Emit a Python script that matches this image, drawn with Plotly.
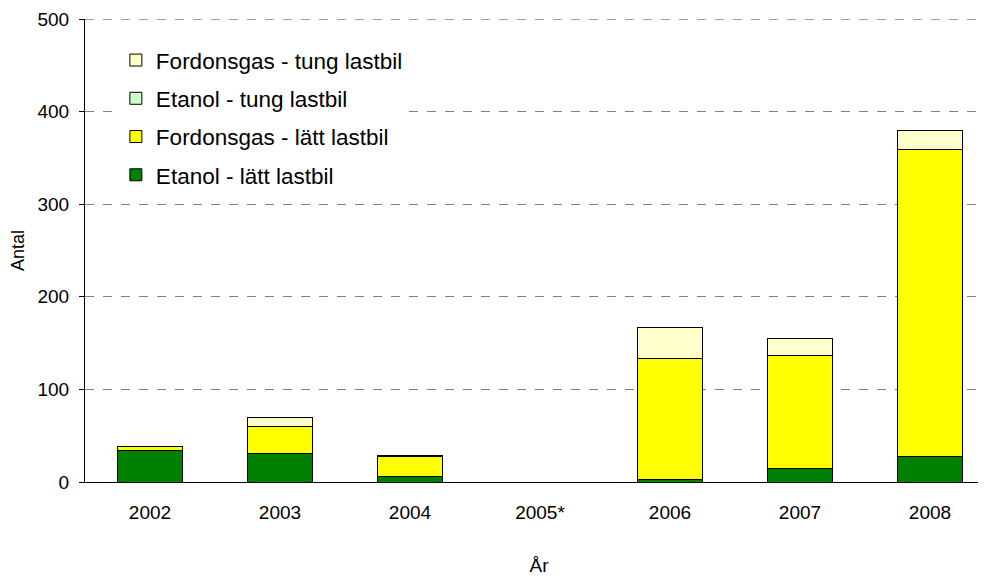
import plotly.graph_objects as go

years = ['2002', '2003', '2004', '2005*', '2006', '2007', '2008']
etanol_latt = [34, 31, 6, 0, 3, 15, 28]
fordonsgas_latt = [4, 29, 22, 0, 130, 122, 331]
etanol_tung = [0, 0, 0, 0, 0, 0, 0]
fordonsgas_tung = [0, 10, 1, 0, 34, 18, 21]

# stacking order bottom -> top
series = [
    ('Etanol - lätt lastbil', etanol_latt, '#008000'),
    ('Fordonsgas - lätt lastbil', fordonsgas_latt, '#FFFF00'),
    ('Etanol - tung lastbil', etanol_tung, '#CCFFCC'),
    ('Fordonsgas - tung lastbil', fordonsgas_tung, '#FFFFCC'),
]

fig = go.Figure()
for i, (name, vals, color) in enumerate(series):
    fig.add_trace(go.Bar(
        x=years,
        y=vals,
        name=name,
        legendgroup=str(i),
        legendrank=len(series) - i,
        width=0.5,
        marker=dict(color=color, line=dict(color='black', width=1))
    ))

font = 'Liberation Sans, Arial, sans-serif'

# the page body adds 8px, so margins are trimmed by that much
fig.update_layout(
    width=986,
    height=580,
    barmode='stack',
    plot_bgcolor='white',
    paper_bgcolor='white',
    margin=dict(l=77, r=1, t=11, b=106, autoexpand=False),
    font=dict(family=font, size=18, color='black'),
    showlegend=True,
    legend=dict(
        x=0.034, y=0.957, xanchor='left', yanchor='top',
        bgcolor='white',
        traceorder='grouped',
        tracegroupgap=6,
        font=dict(size=22.5),
        itemwidth=30
    ),
    xaxis=dict(
        title=dict(text='År', standoff=36, font=dict(size=19)),
        range=[-0.5, 6.485],
        showline=True, linecolor='black', linewidth=1,
        ticks='', tickfont=dict(size=19),
        ticklabelstandoff=13,
        automargin=False,
        showgrid=False
    ),
    yaxis=dict(
        title=dict(text='Antal', standoff=8, font=dict(size=18)),
        range=[0, 500],
        dtick=100,
        showline=True, linecolor='black', linewidth=1,
        ticks='outside', ticklen=5, tickcolor='black',
        tickfont=dict(size=19),
        ticklabelstandoff=6,
        ticklabeloverflow='allow',
        automargin=False,
        showgrid=True, gridcolor='#808080', griddash='dash', gridwidth=1,
        zeroline=False
    ),
    shapes=[dict(type='line', xref='paper', yref='y', x0=0, x1=1, y0=500, y1=500,
                 line=dict(color='#404040', width=1, dash='dash'))]
)

fig.write_html("out.html")
